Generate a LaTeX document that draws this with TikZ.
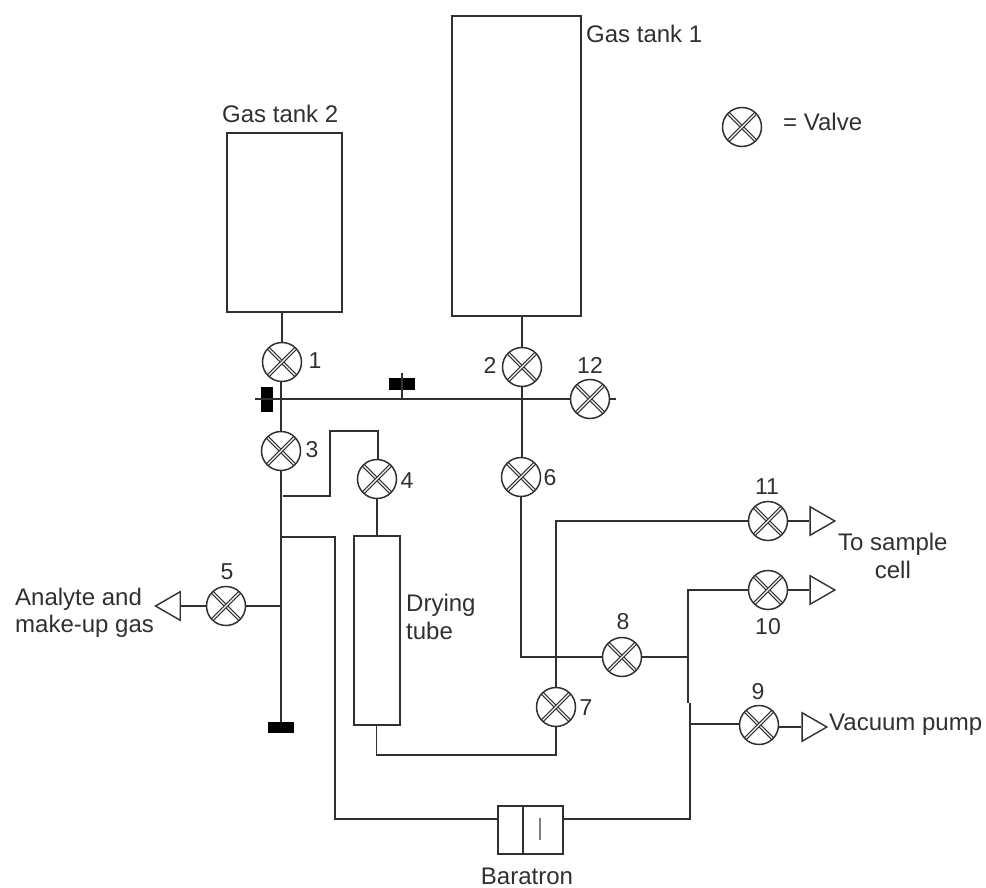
\documentclass[tikz,border=0pt]{standalone}
\usepackage{fontspec}
\setmainfont{Liberation Sans}
\usetikzlibrary{calc,shapes.geometric}
\definecolor{ink}{HTML}{303030}
\tikzset{
  pipe/.style={draw=ink,line width=1.6pt},
  vessel/.style={draw=ink,line width=2pt,rectangle,inner sep=0pt,anchor=north west},
  valve/.style={circle,draw=ink,line width=1.5pt,minimum size=39pt,inner sep=0pt,
    path picture={
      \draw[ink,line width=3.6pt] ($(path picture bounding box.north west)+(5,5)$) -- ($(path picture bounding box.south east)+(-5,-5)$);
      \draw[white,line width=1.1pt] ($(path picture bounding box.north west)+(5,5)$) -- ($(path picture bounding box.south east)+(-5,-5)$);
      \draw[ink,line width=3.6pt] ($(path picture bounding box.north east)+(-5,5)$) -- ($(path picture bounding box.south west)+(5,-5)$);
      \draw[white,line width=1.1pt] ($(path picture bounding box.north east)+(-5,5)$) -- ($(path picture bounding box.south west)+(5,-5)$);
    }},
  outlet/.style={regular polygon,regular polygon sides=3,draw=ink,line width=1.4pt,inner sep=0pt,minimum size=33pt},
  plug/.style={fill=black,draw=none,rectangle,inner sep=0pt},
  lbl/.style={font=\fontsize{24}{27.5}\selectfont,text=ink,inner sep=0pt},
  num/.style={font=\fontsize{23}{26}\selectfont,text=ink,inner sep=0pt}
}
\begin{document}
\begin{tikzpicture}[x=1pt,y=-1pt]
\useasboundingbox (0,0) rectangle (986,888);
% vessels
\node[vessel,minimum width=115pt,minimum height=178pt] (tank2) at (225.5,132.5) {};
\node[vessel,minimum width=129pt,minimum height=299pt] (tank1) at (450.5,15.5) {};
\node[vessel,minimum width=46pt,minimum height=189pt] (dry) at (352.5,534.5) {};
\node[vessel,minimum width=65pt,minimum height=48pt] (bara) at (496.5,804.5) {};
% valves
\node[valve] (v1) at (282,362) {};
\node[valve] (v2) at (522,367) {};
\node[valve] (v3) at (281,451) {};
\node[valve] (v4) at (377,479) {};
\node[valve] (v5) at (226,606) {};
\node[valve] (v6) at (521,477) {};
\node[valve] (v7) at (556,707) {};
\node[valve] (v8) at (622,657) {};
\node[valve] (v9) at (759,725) {};
\node[valve] (v10) at (768,590) {};
\node[valve] (v11) at (768,521) {};
\node[valve] (v12) at (590,399) {};
\node[valve] (vk) at (742,127) {};
% outlets
\node[outlet,shape border rotate=90] (o5) at (172,606) {};
\node[outlet,shape border rotate=-90] (o11) at (818.3,521) {};
\node[outlet,shape border rotate=-90] (o10) at (818.3,590) {};
\node[outlet,shape border rotate=-90] (o9) at (810.3,727) {};
% plugs
\node[plug,minimum width=12pt,minimum height=25pt] (p1) at (267,399.5) {};
\node[plug,minimum width=26pt,minimum height=12pt] (p2) at (402,383.5) {};
\node[plug,minimum width=26pt,minimum height=11pt] (p3) at (281,727.5) {};
% coordinates
\coordinate (hl) at (255,399);
\coordinate (o12) at (616,399);
\coordinate (s2) at (402,373);
\coordinate (s2b) at (402,399);
\coordinate (m1) at (283,496);
\coordinate (m2) at (330,496);
\coordinate (m3) at (330,431);
\coordinate (m4) at (378,431);
\coordinate (b1) at (282,537);
\coordinate (b2) at (335,537);
\coordinate (b3) at (335,819);
\coordinate (r1) at (690,819);
\coordinate (r2) at (690,703);
\coordinate (r3) at (688,590);
\coordinate (r4) at (688,703);
\coordinate (j9) at (690,724);
\coordinate (j8) at (688,657);
\coordinate (l8) at (522,657);
\coordinate (j5) at (282,606);
\coordinate (dn2) at (556,755);
\coordinate (up) at (556,521);
% pipes
\draw[pipe] (tank2.south -| v1) -- (v1);
\draw[pipe] (tank1.south -| v2) -- (v2);
\draw[pipe] (v3.north) -- (v3.north |- v1.south);
\draw[pipe] (hl) -- (v12.west);
\draw[pipe] (v12.east) -- (o12);
\draw[pipe] (s2) -- (s2b);
\draw[pipe] (v2.south) -- (v2.south |- v6.north);
\draw[pipe] (v3.south) -- (p3.north);
\draw[pipe] (m1) -- (m2) -- (m3) -- (m4) -- (m4 |- v4.north);
\draw[pipe] (v4.south) -- (v4.south |- dry.north);
\draw[pipe] (dry.south) -- (dry.south |- dn2) -- (dn2) -- (v7.south);
\draw[pipe] (v7.north) -- (up) -- (v11.west);
\draw[pipe] (v6.south) -- (v6.south |- l8) -- (v8.west);
\draw[pipe] (v8.east) -- (j8);
\draw[pipe] (v10.west) -- (r3) -- (r4);
\draw[pipe] (r2) -- (r1) -- (bara.east |- r1);
\draw[pipe] (j9) -- (j9 -| v9.west);
\draw[pipe] (bara.west |- b3) -- (b3) -- (b2) -- (b1);
\draw[pipe] (v5.east) -- (j5);
\draw[pipe] (v5.west) -- (o5.east |- v5);
\draw[pipe] (v11.east) -- (o11.west);
\draw[pipe] (v10.east) -- (o10.west);
\draw[pipe] (v9.east |- o9) -- (o9.west);
% baratron inner
\coordinate (d1) at (523,805);
\coordinate (d2) at (523,853);
\coordinate (g1) at (540,818);
\coordinate (g2) at (540,840);
\draw[pipe] (d1) -- (d2);
\draw[draw=gray,line width=1.4pt] (g1) -- (g2);
% labels
\node[lbl,anchor=west] (tg1) at (586,34) {Gas tank 1};
\node[lbl,anchor=west] (tg2) at (222,114) {Gas tank 2};
\node[lbl,anchor=west] (tv) at (783,122) {= Valve};
\node[lbl,anchor=west,align=left] (tdry) at (406,617) {Drying\\tube};
\node[lbl,anchor=west,align=left] (tan) at (15,613) {Analyte and\\make-up gas};
\node[lbl,anchor=west,align=center] (tsc) at (838,556) {To sample\\cell};
\node[lbl,anchor=west] (tvp) at (829,725) {Vacuum pump};
\node[lbl,anchor=center] (tbar) at (527,876) {Baratron};
\node[num] (n1) at (315,361) {1};
\node[num] (n2) at (490,365) {2};
\node[num] (n3) at (312,450) {3};
\node[num] (n4) at (407,481) {4};
\node[num] (n5) at (227,572) {5};
\node[num] (n6) at (550,478) {6};
\node[num] (n7) at (586,708) {7};
\node[num] (n8) at (623,622) {8};
\node[num] (n9) at (758,692) {9};
\node[num] (n10) at (768,627) {10};
\node[num] (n11) at (767,487) {11};
\node[num] (n12) at (590,365) {12};
\end{tikzpicture}
\end{document}
